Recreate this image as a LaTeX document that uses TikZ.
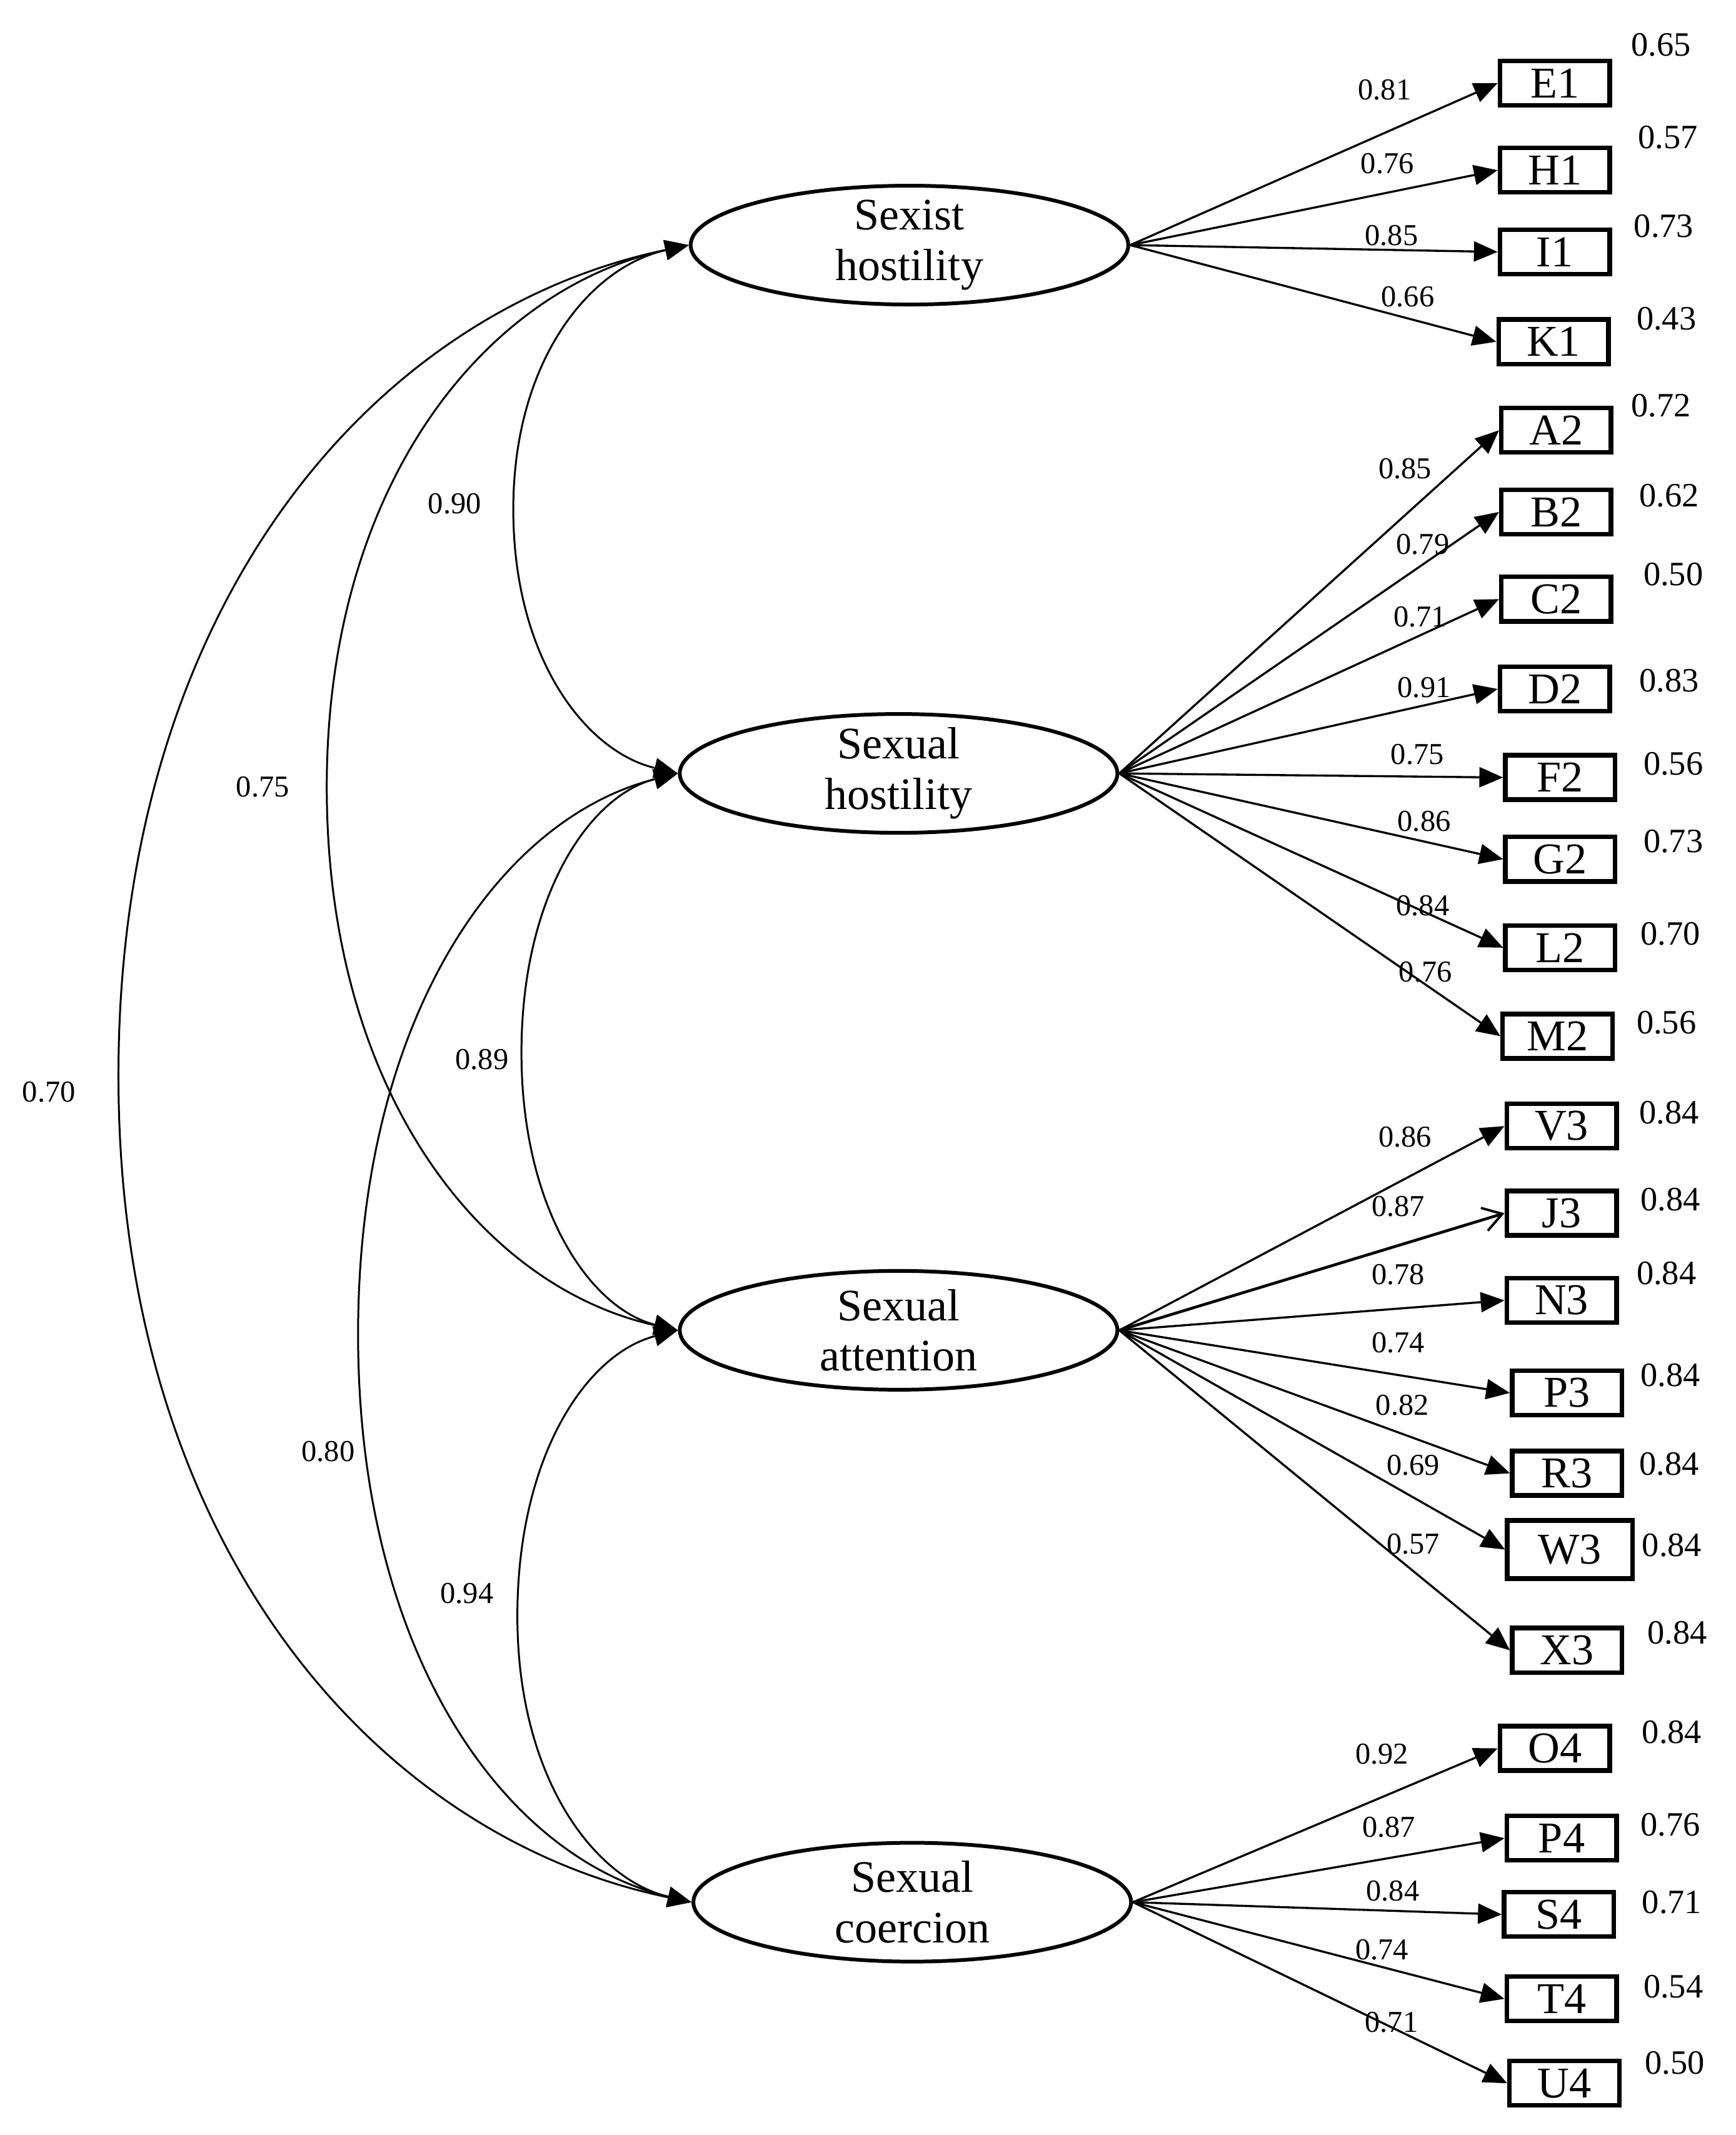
\documentclass[tikz,border=0pt]{standalone}
\usepackage{fontspec}
\setmainfont{Liberation Serif}
\usetikzlibrary{shapes.geometric,arrows.meta}
\begin{document}
\begin{tikzpicture}[x=0.021773cm,y=-0.021773cm,
  lat/.style={draw,line width=1.7pt,ellipse,minimum width=7.0cm,minimum height=1.9cm,inner sep=-4pt,align=center,font=\fontsize{20.5}{23}\selectfont},
  obs/.style={draw,line width=2.1pt,rectangle,minimum width=1.755cm,minimum height=0.71cm,inner sep=0pt,font=\fontsize{20}{24}\selectfont},
  ld/.style={font=\fontsize{13.8}{16}\selectfont,inner sep=0pt},
  res/.style={font=\fontsize{15.5}{18}\selectfont,inner sep=0pt},
  load/.style={line width=0.95pt,-{Triangle[length=0.38cm,width=0.32cm]}},
  loadopen/.style={line width=1.3pt,-{Straight Barb[length=0.3cm,width=0.38cm,line width=1.1pt]}},
  cov/.style={line width=0.85pt,{Triangle[length=0.38cm,width=0.32cm]}-{Triangle[length=0.38cm,width=0.32cm]}},
]
\useasboundingbox (0,0) rectangle (1275,1568);

% latent variables
\node[lat] (e1) at (668,180) {Sexist\\hostility};
\node[lat] (e2) at (660,568) {Sexual\\hostility};
\node[lat] (e3) at (660,977) {Sexual\\attention};
\node[lat] (e4) at (670,1397) {Sexual\\coercion};

% observed variables
\node[obs] (E1) at (1142,61) {E1};
\node[obs] (H1) at (1142,125) {H1};
\node[obs] (I1) at (1142,185) {I1};
\node[obs] (K1) at (1141,251) {K1};
\node[obs] (A2) at (1143,316) {A2};
\node[obs] (B2) at (1143,376) {B2};
\node[obs] (C2) at (1143,440) {C2};
\node[obs] (D2) at (1142,506) {D2};
\node[obs] (F2) at (1146,571) {F2};
\node[obs] (G2) at (1146,631) {G2};
\node[obs] (L2) at (1146,696) {L2};
\node[obs] (M2) at (1144,761) {M2};
\node[obs] (V3) at (1147,827) {V3};
\node[obs] (J3) at (1147,891) {J3};
\node[obs] (N3) at (1147,955) {N3};
\node[obs] (P3) at (1151,1023) {P3};
\node[obs] (R3) at (1151,1082) {R3};
\node[obs,minimum width=2.0cm,minimum height=0.93cm] (W3) at (1153,1138) {W3};
\node[obs] (X3) at (1151,1212) {X3};
\node[obs] (O4) at (1142,1284) {O4};
\node[obs] (P4) at (1147,1350) {P4};
\node[obs] (S4) at (1145,1406) {S4};
\node[obs] (T4) at (1147,1468) {T4};
\node[obs] (U4) at (1149,1530) {U4};

% loadings
\foreach \b in {E1,H1,I1,K1} \draw[load] (e1.east) -- (\b.west);
\foreach \b in {A2,B2,C2,D2,F2,G2,L2,M2} \draw[load] (e2.east) -- (\b.west);
\foreach \b in {V3,N3,P3,R3,W3,X3} \draw[load] (e3.east) -- (\b.west);
\draw[loadopen] (e3.east) -- (J3.west);
\foreach \b in {O4,P4,S4,T4,U4} \draw[load] (e4.east) -- (\b.west);

% loading labels
\node[ld] (l1) at (1017,66) {0.81};
\node[ld] (l2) at (1019,120) {0.76};
\node[ld] (l3) at (1022,173) {0.85};
\node[ld] (l4) at (1034,218) {0.66};
\node[ld] (l5) at (1032,344) {0.85};
\node[ld] (l6) at (1045,400) {0.79};
\node[ld] (l7) at (1043,453) {0.71};
\node[ld] (l8) at (1046,505) {0.91};
\node[ld] (l9) at (1041,554) {0.75};
\node[ld] (l10) at (1046,603) {0.86};
\node[ld] (l11) at (1045,665) {0.84};
\node[ld] (l12) at (1047,714) {0.76};
\node[ld] (l13) at (1032,835) {0.86};
\node[ld] (l14) at (1027,886) {0.87};
\node[ld] (l15) at (1027,936) {0.78};
\node[ld] (l16) at (1027,986) {0.74};
\node[ld] (l17) at (1030,1032) {0.82};
\node[ld] (l18) at (1038,1076) {0.69};
\node[ld] (l19) at (1038,1134) {0.57};
\node[ld] (l20) at (1015,1288) {0.92};
\node[ld] (l21) at (1020,1342) {0.87};
\node[ld] (l22) at (1023,1389) {0.84};
\node[ld] (l23) at (1015,1432) {0.74};
\node[ld] (l24) at (1022,1485) {0.71};

% residual labels
\node[res] (r1) at (1220,33) {0.65};
\node[res] (r2) at (1225,101) {0.57};
\node[res] (r3) at (1222,166) {0.73};
\node[res] (r4) at (1224,234) {0.43};
\node[res] (r5) at (1220,298) {0.72};
\node[res] (r6) at (1226,364) {0.62};
\node[res] (r7) at (1229,422) {0.50};
\node[res] (r8) at (1226,500) {0.83};
\node[res] (r9) at (1229,561) {0.56};
\node[res] (r10) at (1229,618) {0.73};
\node[res] (r11) at (1227,686) {0.70};
\node[res] (r12) at (1224,751) {0.56};
\node[res] (r13) at (1226,817) {0.84};
\node[res] (r14) at (1227,881) {0.84};
\node[res] (r15) at (1224,935) {0.84};
\node[res] (r16) at (1227,1010) {0.84};
\node[res] (r17) at (1226,1075) {0.84};
\node[res] (r18) at (1228,1135) {0.84};
\node[res] (r19) at (1232,1199) {0.84};
\node[res] (r20) at (1228,1272) {0.84};
\node[res] (r21) at (1227,1340) {0.76};
\node[res] (r22) at (1228,1397) {0.71};
\node[res] (r23) at (1229,1459) {0.54};
\node[res] (r24) at (1230,1515) {0.50};

% covariances
\draw[cov] (e1.west) .. controls (433,196) and (377,265) .. (377,374)
                     .. controls (377,483) and (430,552) .. (e2.west);
\draw[cov] (e2.west) .. controls (433,584) and (383,658) .. (383,773)
                     .. controls (383,887) and (433,961) .. (e3.west);
\draw[cov] (e3.west) .. controls (431,994) and (380,1069) .. (380,1187)
                     .. controls (380,1305) and (436,1380) .. (e4.west);
\draw[cov] (e1.west) .. controls (357,212) and (240,355) .. (240,578)
                     .. controls (240,801) and (353,945) .. (e3.west);
\draw[cov] (e2.west) .. controls (366,601) and (263,749) .. (263,980)
                     .. controls (263,1214) and (370,1364) .. (e4.west);
\draw[cov] (e1.west) .. controls (271,229) and (87,448) .. (87,790)
                     .. controls (87,1130) and (272,1348) .. (e4.west);

% covariance labels
\node[ld] (c1) at (334,370) {0.90};
\node[ld] (c2) at (193,578) {0.75};
\node[ld] (c3) at (36,802) {0.70};
\node[ld] (c4) at (354,778) {0.89};
\node[ld] (c5) at (241,1066) {0.80};
\node[ld] (c6) at (343,1170) {0.94};
\end{tikzpicture}
\end{document}
